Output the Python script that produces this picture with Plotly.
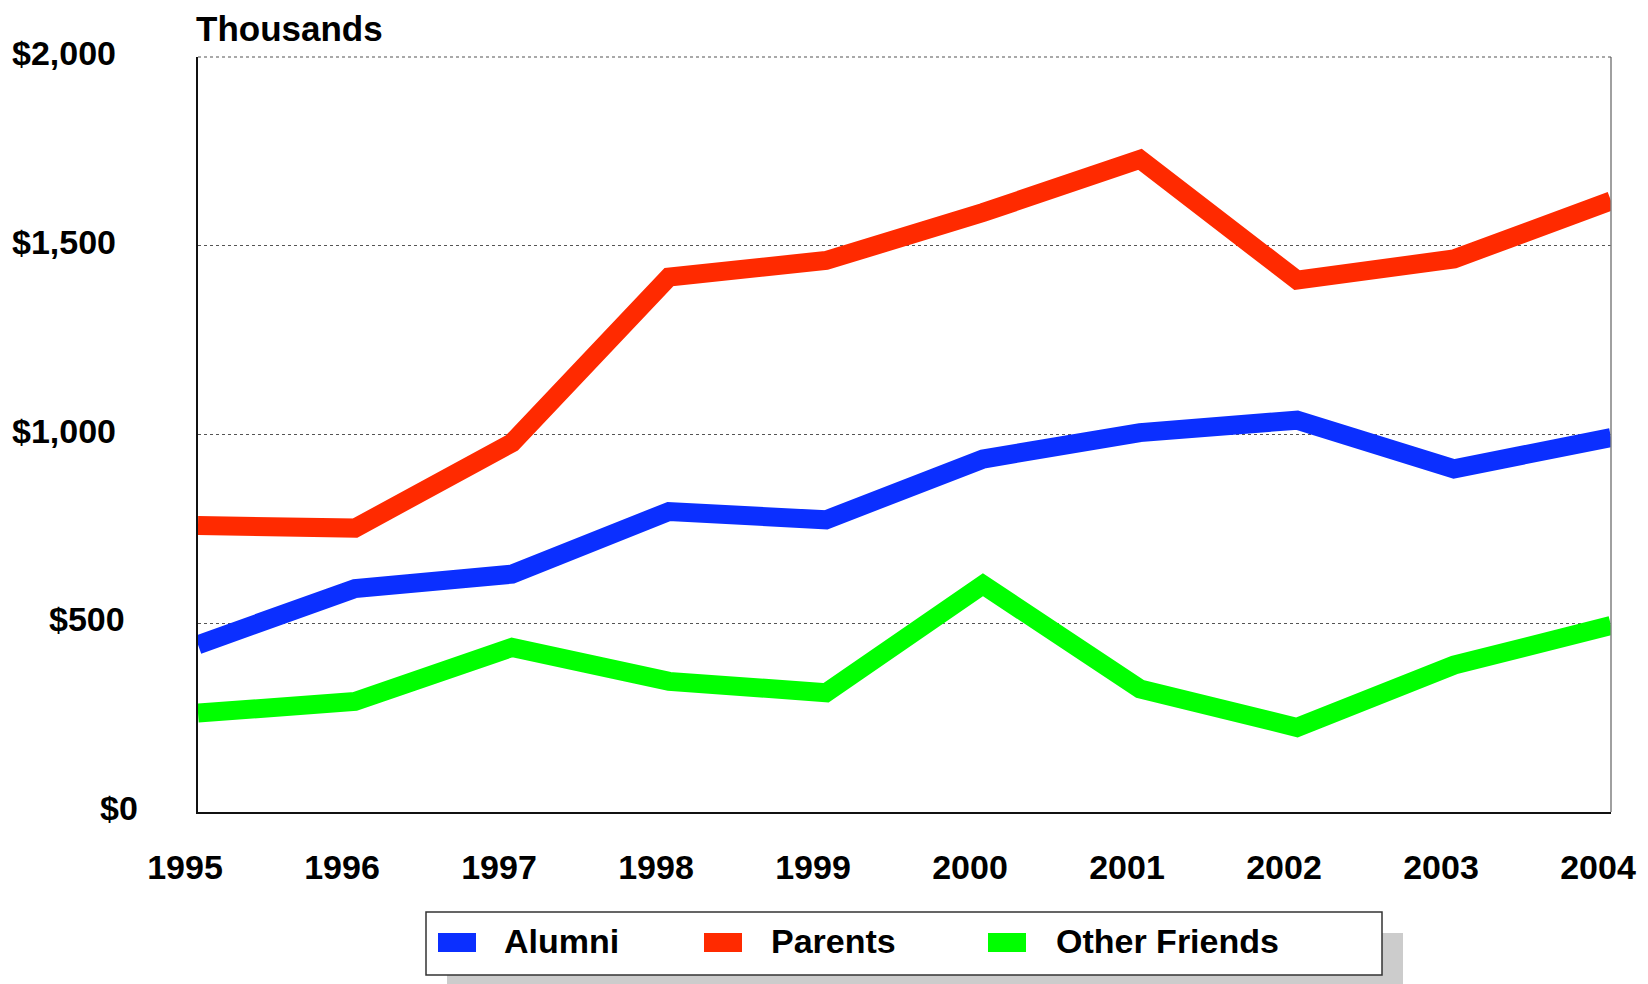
import plotly.graph_objects as go

years = [1995, 1996, 1997, 1998, 1999, 2000, 2001, 2002, 2003, 2004]
series_names = ["Alumni", "Parents", "Other Friends"]
alumni = [443, 592, 630, 796, 774, 935, 1005, 1038, 909, 992]
parents = [759, 752, 978, 1417, 1461, 1588, 1729, 1409, 1465, 1619]
other_friends = [262, 293, 436, 346, 316, 602, 326, 224, 389, 494]
y_tick_vals = [0, 500, 1000, 1500, 2000]
y_tick_text = ["$0", "$500", "$1,000", "$1,500", "$2,000"]
unit_label = "Thousands"

colors = ["#0b2fff", "#ff2a00", "#00ff00"]
values = [alumni, parents, other_friends]

# page body has an 8px margin; figure sized so plot lands at page px 198-1611 x 57-812
W, H = 1640, 976
L, R, T, B = 190, 37, 49, 172
FONT = "Liberation Sans, Arial, sans-serif"

fig = go.Figure()
for name, vals, col in zip(series_names, values, colors):
    fig.add_trace(go.Scatter(x=years, y=vals, mode="lines", name=name,
                             line=dict(color=col, width=19), showlegend=False))

fig.update_layout(
    width=W, height=H,
    margin=dict(l=L, r=R, t=T, b=B, pad=0),
    paper_bgcolor="white", plot_bgcolor="white",
    font=dict(family=FONT, size=34, color="black"),
)
fig.update_xaxes(
    range=[1995, 2004], tickvals=years, ticktext=[str(y) for y in years],
    showgrid=False, zeroline=False, showline=True, linecolor="#111", linewidth=1.5,
    ticks="", tickfont=dict(family=FONT, size=34, color="black", weight="bold"),
    ticklabelshift=-13, ticklabelstandoff=24,
)
fig.update_yaxes(
    range=[0, 2000], tickvals=y_tick_vals, showticklabels=False,
    showgrid=True, gridcolor="#555", griddash="dot", gridwidth=1,
    zeroline=False, showline=True, linecolor="#111", linewidth=1.5, ticks="",
)

# right frame line and dotted top line
fig.add_shape(type="line", xref="x domain", yref="y domain", x0=1, x1=1, y0=0, y1=1,
              line=dict(color="#808080", width=1.5))
fig.add_shape(type="line", xref="x domain", yref="y domain", x0=0, x1=1, y0=1, y1=1,
              line=dict(color="#555", width=1.2, dash="dot"))

# y tick labels
label_shift = {0: -58, 500: -71, 1000: -80, 1500: -80, 2000: -80}
for v, t in zip(y_tick_vals, y_tick_text):
    fig.add_annotation(text=t, xref="paper", x=0, yref="y", y=v, xanchor="right",
                       yanchor="middle", xshift=label_shift[v], yshift=4, showarrow=False,
                       font=dict(family=FONT, size=34, color="black", weight="bold"))

fig.add_annotation(text=unit_label, xref="paper", x=0, yref="paper", y=1, xanchor="left",
                   yanchor="bottom", xshift=-3, yshift=8, showarrow=False, borderpad=0,
                   font=dict(family=FONT, size=35, color="black", weight="bold"))

# custom legend (pixel offsets from plot bottom-left)
def rect(x0, x1, y0, y1, fill, line_color=None, lw=0):
    fig.add_shape(type="rect", xref="paper", yref="paper", xsizemode="pixel", ysizemode="pixel",
                  xanchor=0, yanchor=0, x0=x0, x1=x1, y0=y0, y1=y1,
                  fillcolor=fill, line=dict(color=line_color or fill, width=lw), layer="above")

rect(249, 1205, -175, -121, "#cccccc")
rect(228, 1184, -163, -100, "white", "#333333", 1.5)
sw_x = [240, 506, 790]
tx_x = [304, 571, 856]
for name, col, sx, tx in zip(series_names, colors, sw_x, tx_x):
    rect(sx, sx + 38, -140, -121, col)
    fig.add_annotation(text=name, xref="paper", x=0, yref="paper", y=0, xanchor="left",
                       yanchor="middle", xshift=tx, yshift=-129, showarrow=False,
                       font=dict(family=FONT, size=34, color="black", weight="bold"))

fig.write_html("out.html")
